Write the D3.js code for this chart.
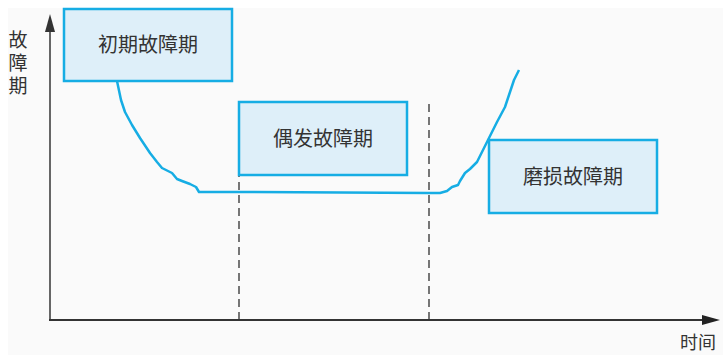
<!DOCTYPE html>
<html lang="zh">
  <head>
    <meta charset="utf-8" />
    <script src="https://d3js.org/d3.v7.min.js"></script>
    <style>
      body { margin: 0; background: #fff; }
      text { font-family: "Noto Sans CJK SC", "Noto Sans", sans-serif; fill: #333; }
    </style>
    <title>故障期</title>
  </head>
  <body>
    <script>
      // time (t) and failure rate (r) readings of the bathtub curve
      var curveT = [67, 71, 75, 82, 90, 100, 107, 112, 116, 122, 127, 132, 140, 146, 149,
        190, 378, 390, 397, 402, 408, 410, 415, 420, 427, 438, 447, 455, 460, 464, 469];
      var curveR = [239, 220, 208, 195, 182, 167, 158, 152, 150, 147, 141, 139, 136, 133, 128,
        128, 127, 127, 129, 133, 135, 139, 147, 151, 158, 180, 198, 213, 228, 240, 250];

      // phase boxes
      var phaseNames = ["初期故障期", "偶发故障期", "磨损故障期"];
      var phaseStart = [14, 189, 439];
      var phaseEnd = [182, 357, 607];
      var phaseLow = [239, 145, 107];
      var phaseHigh = [311, 218, 180];

      // dashed phase boundaries
      var boundT = [189, 379];
      var boundTop = [145, 218];

      var yLabel = "故障期";
      var xLabel = "时间";

      var W = 723, H = 355;
      var x = d3.scaleLinear().domain([0, 670]).range([50, 720]);
      var y = d3.scaleLinear().domain([0, 306]).range([320, 14]);

      var svg = d3.select("body").append("svg")
        .attr("width", W).attr("height", H);

      svg.append("rect").attr("x", 8).attr("y", 8)
        .attr("width", W - 8).attr("height", H - 8).attr("fill", "#fafafa");

      // dashed lines
      svg.selectAll(".bound").data(boundT).enter().append("line")
        .attr("x1", function (d) { return x(d); })
        .attr("x2", function (d) { return x(d); })
        .attr("y1", y(0))
        .attr("y2", function (d, i) { return y(boundTop[i]); })
        .attr("stroke", "#555").attr("stroke-width", 1.6)
        .attr("stroke-dasharray", "8,5");

      // axes
      svg.append("line").attr("x1", x(0)).attr("x2", x(0))
        .attr("y1", y(0) + 1).attr("y2", y(290))
        .attr("stroke", "#666").attr("stroke-width", 2);
      svg.append("path")
        .attr("d", "M" + x(0) + "," + y(306) + "L" + (x(0) - 5) + "," + (y(306) + 18) +
          "L" + (x(0) + 5) + "," + (y(306) + 18) + "Z")
        .attr("fill", "#333");
      svg.append("line").attr("x1", x(0) - 1).attr("x2", x(654))
        .attr("y1", y(0)).attr("y2", y(0))
        .attr("stroke", "#333").attr("stroke-width", 2);
      svg.append("path")
        .attr("d", "M" + x(670) + "," + y(0) + "L" + (x(670) - 18) + "," + (y(0) - 5) +
          "L" + (x(670) - 18) + "," + (y(0) + 5) + "Z")
        .attr("fill", "#222");

      // curve
      var pts = curveT.map(function (t, i) { return [t, curveR[i]]; });
      svg.append("path").datum(pts)
        .attr("d", d3.line().x(function (d) { return x(d[0]); }).y(function (d) { return y(d[1]); }))
        .attr("fill", "none").attr("stroke", "#16ade4").attr("stroke-width", 2.5)
        .attr("stroke-linejoin", "round");

      // boxes
      var box = svg.selectAll(".phase").data(phaseNames).enter().append("g");
      box.append("rect")
        .attr("x", function (d, i) { return x(phaseStart[i]); })
        .attr("y", function (d, i) { return y(phaseHigh[i]); })
        .attr("width", function (d, i) { return x(phaseEnd[i]) - x(phaseStart[i]); })
        .attr("height", function (d, i) { return y(phaseLow[i]) - y(phaseHigh[i]); })
        .attr("fill", "#deeff9").attr("stroke", "#16ade4").attr("stroke-width", 2.5);
      box.append("text")
        .attr("x", function (d, i) { return (x(phaseStart[i]) + x(phaseEnd[i])) / 2; })
        .attr("y", function (d, i) { return (y(phaseLow[i]) + y(phaseHigh[i])) / 2 + 7; })
        .attr("text-anchor", "middle").attr("font-size", 20)
        .text(function (d) { return d; });

      // labels
      svg.selectAll(".ylab").data(yLabel.split("")).enter().append("text")
        .attr("x", 18).attr("y", function (d, i) { return 47 + i * 23; })
        .attr("text-anchor", "middle").attr("font-size", 19)
        .text(function (d) { return d; });
      svg.append("text").attr("x", 698).attr("y", 349)
        .attr("text-anchor", "middle").attr("font-size", 18).text(xLabel);
    </script>
  </body>
</html>
